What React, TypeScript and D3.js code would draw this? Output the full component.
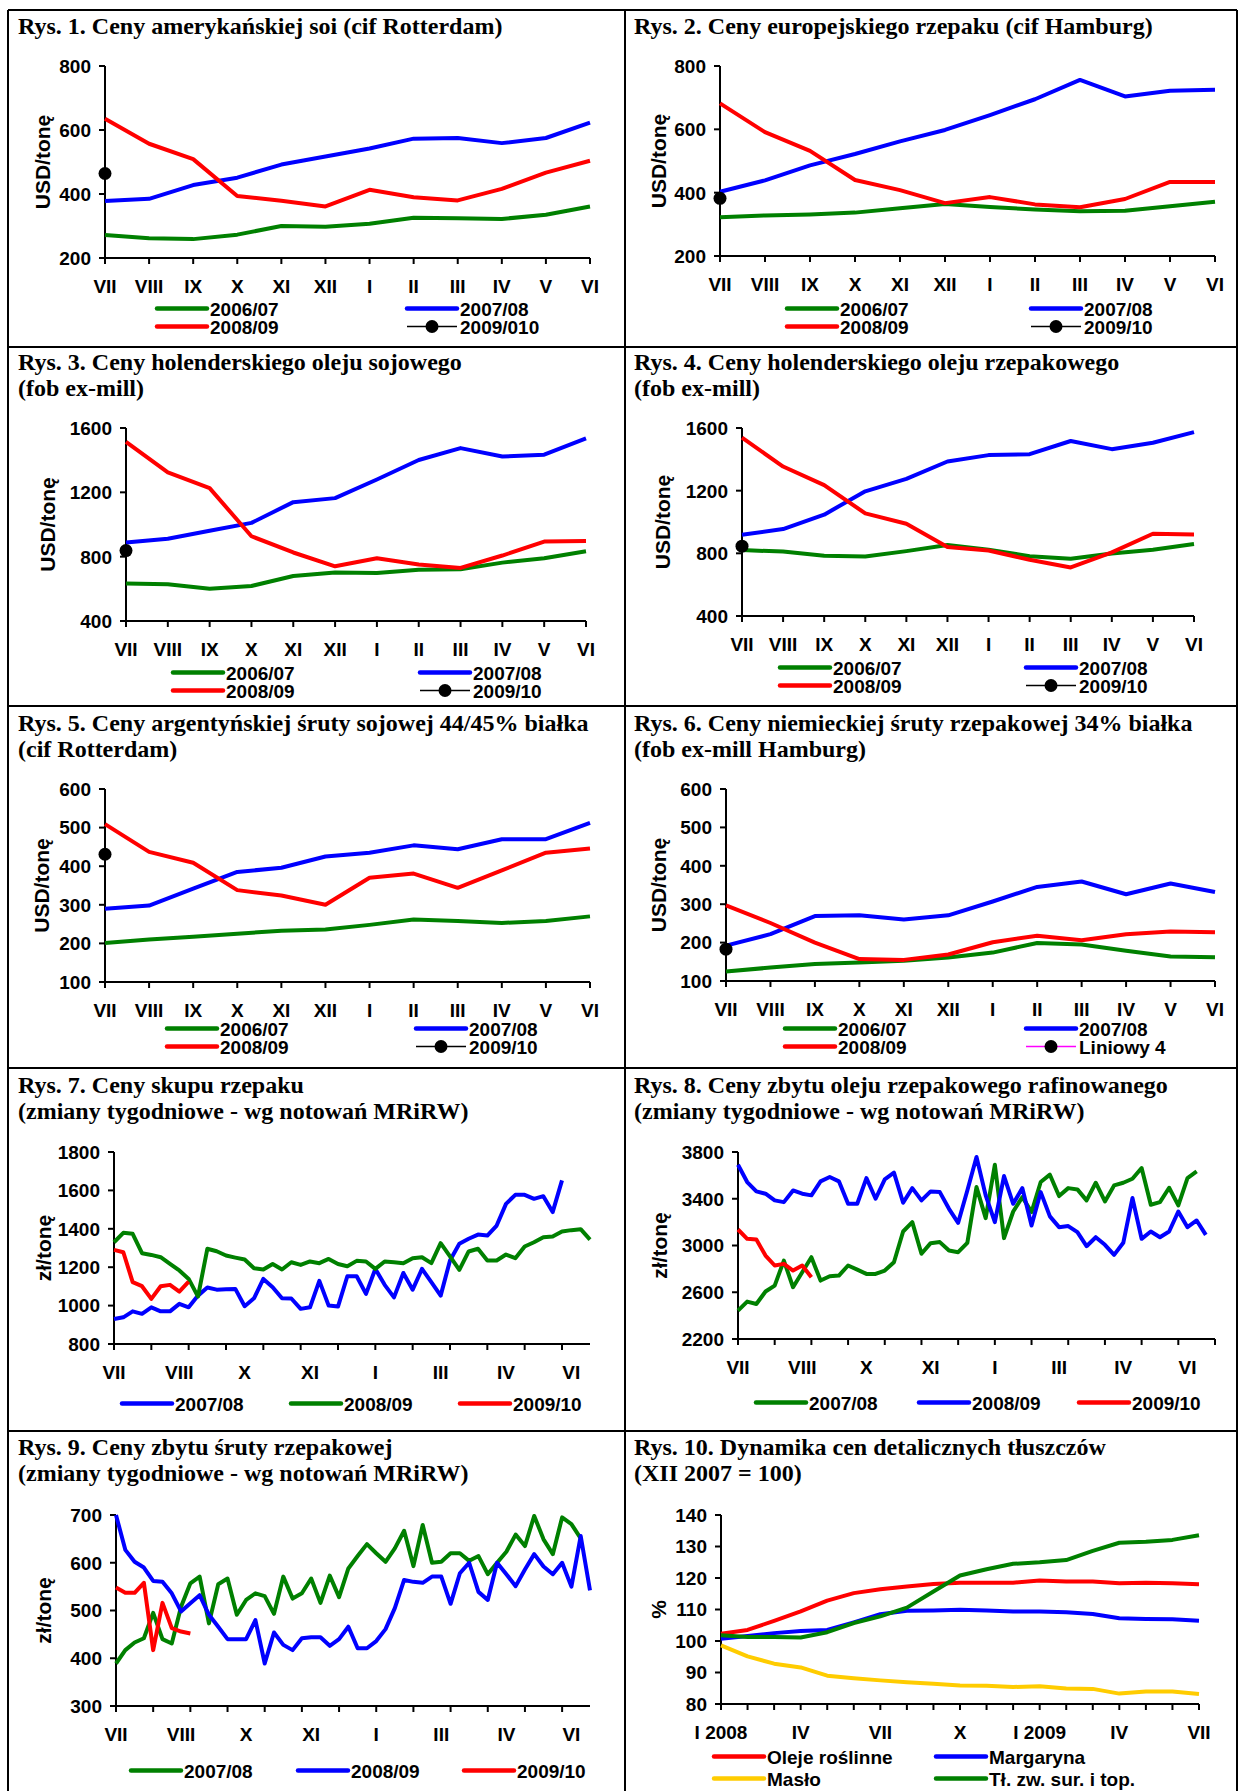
import React from "react";
import * as d3 from "d3";

const SANS = "'Liberation Sans', Arial, sans-serif";
const SERIF = "'Liberation Serif', 'Times New Roman', serif";

const GREEN = "#008000";
const BLUE = "#0000ff";
const RED = "#ff0000";
const YELLOW = "#ffcc00";
const MAGENTA = "#ff00ff";

// marketing-year months (VII..VI)
const months = ["VII", "VIII", "IX", "X", "XI", "XII", "I", "II", "III", "IV", "V", "VI"];
// weekly axes: a label every 7 weeks
const weekLabels = ["VII", "VIII", "X", "XI", "I", "III", "IV", "VI"];
const retailMonths = [
  "I 2008", "II", "III", "IV", "V", "VI", "VII", "VIII", "IX", "X", "XI", "XII",
  "I 2009", "II", "III", "IV", "V", "VI", "VII",
];

// Rys. 1 soja
const soy0607 = [272, 262, 259, 273, 300, 298, 307, 326, 324, 322, 335, 361];
const soy0708 = [378, 385, 428, 451, 492, 517, 542, 573, 575, 559, 575, 623];
const soy0809 = [635, 557, 509, 394, 379, 361, 413, 390, 380, 416, 467, 504];
const soy0910 = [464];

// Rys. 2 rzepak
const rape0607 = [322, 328, 331, 337, 351, 364, 355, 347, 341, 343, 357, 371];
const rape0708 = [403, 439, 486, 522, 562, 598, 645, 695, 756, 704, 722, 725];
const rape0809 = [682, 591, 532, 440, 408, 367, 386, 363, 354, 380, 434, 434];
const rape0910 = [382];

// Rys. 3 olej sojowy
const soyOil0607 = [633, 628, 601, 618, 680, 701, 699, 718, 722, 763, 790, 834];
const soyOil0708 = [888, 911, 961, 1010, 1139, 1164, 1280, 1401, 1475, 1423, 1434, 1536];
const soyOil0809 = [1513, 1324, 1226, 927, 826, 740, 790, 751, 730, 807, 894, 898];
const soyOil0910 = [838];

// Rys. 4 olej rzepakowy
const rapeOil0607 = [821, 811, 784, 780, 814, 853, 823, 782, 765, 799, 823, 859];
const rapeOil0708 = [919, 955, 1047, 1196, 1275, 1386, 1427, 1433, 1517, 1465, 1506, 1574];
const rapeOil0809 = [1538, 1354, 1235, 1055, 989, 840, 818, 759, 710, 806, 925, 921];
const rapeOil0910 = [846];

// Rys. 5 sruta sojowa
const soyMeal0607 = [201, 210, 217, 225, 233, 236, 248, 262, 258, 253, 258, 270];
const soyMeal0708 = [290, 298, 342, 385, 396, 425, 435, 454, 444, 470, 470, 512];
const soyMeal0809 = [509, 437, 409, 338, 324, 300, 370, 381, 344, 389, 435, 446];
const soyMeal0910 = [431];

// Rys. 6 sruta rzepakowa
const rapeMeal0607 = [125, 135, 144, 148, 153, 161, 174, 199, 195, 179, 164, 162];
const rapeMeal0708 = [192, 222, 269, 271, 260, 271, 307, 345, 359, 326, 354, 332];
const rapeMeal0809 = [297, 251, 200, 157, 155, 169, 201, 218, 206, 222, 229, 227];
const rapeMeal0910 = [183];

// Rys. 7 skup rzepaku (tygodniowo)
const seed0708 = [
  930, 939, 970, 957, 991, 970, 970, 1009, 991, 1052, 1094, 1083, 1085, 1087, 997, 1038, 1139,
  1096, 1038, 1037, 983, 991, 1129, 1000, 995, 1153, 1153, 1061, 1191, 1108, 1043, 1170, 1083,
  1191, 1122, 1052, 1235, 1322, 1348, 1370, 1365, 1417, 1530, 1577, 1577, 1556, 1570, 1487, 1652,
];
const seed0809 = [
  1330, 1379, 1374, 1273, 1264, 1252, 1217, 1183, 1139, 1047, 1296, 1283, 1261, 1250, 1240,
  1195, 1188, 1217, 1188, 1226, 1212, 1230, 1221, 1243, 1217, 1205, 1233, 1230, 1191, 1230,
  1226, 1221, 1247, 1252, 1221, 1325, 1256, 1186, 1282, 1296, 1235, 1235, 1266, 1247, 1308,
  1330, 1356, 1360, 1386, 1393, 1398, 1344,
];
const seed0910 = [1290, 1278, 1122, 1101, 1035, 1101, 1108, 1073, 1125];

// Rys. 8 olej rafinowany (tygodniowo)
const oil0708 = [
  2443, 2520, 2500, 2606, 2657, 2871, 2643, 2771, 2900, 2700, 2737, 2743, 2829, 2794, 2757,
  2757, 2786, 2857, 3120, 3200, 2929, 3020, 3029, 2957, 2943, 3023, 3500, 3234, 3691, 3063,
  3291, 3414, 3286, 3543, 3606, 3423, 3491, 3480, 3386, 3537, 3377, 3514, 3537, 3571, 3663,
  3349, 3371, 3494, 3343, 3577, 3634,
];
const oil0809 = [
  3691, 3543, 3463, 3443, 3386, 3371, 3471, 3443, 3429, 3549, 3586, 3549, 3357, 3357, 3577,
  3400, 3566, 3623, 3366, 3491, 3386, 3463, 3457, 3314, 3194, 3471, 3757, 3429, 3200, 3594,
  3357, 3491, 3171, 3457, 3249, 3157, 3166, 3114, 2994, 3071, 3006, 2920, 3023, 3406, 3057,
  3120, 3071, 3120, 3291, 3157, 3214, 3091,
];
const oil0910 = [3137, 3057, 3051, 2914, 2829, 2843, 2786, 2829, 2729];

// Rys. 9 sruta rzepakowa (tygodniowo)
const meal0708 = [
  389, 417, 433, 442, 495, 440, 431, 508, 557, 571, 473, 555, 567, 491, 522, 536, 530, 493, 571,
  525, 536, 567, 516, 573, 528, 588, 614, 639, 620, 602, 630, 667, 593, 679, 600, 602, 620, 620,
  604, 614, 576, 600, 623, 659, 635, 698, 649, 618, 695, 681, 651,
];
const meal0809 = [
  700, 627, 602, 590, 562, 560, 536, 498, 515, 532, 491, 466, 440, 440, 440, 480, 389, 454, 428,
  417, 442, 444, 444, 426, 440, 466, 421, 421, 436, 461, 505, 564, 560, 558, 571, 571, 514, 578,
  600, 539, 522, 600, 576, 551, 586, 618, 592, 576, 600, 550, 656, 542,
];
const meal0910 = [548, 537, 537, 558, 417, 516, 463, 456, 452];

// Rys. 10 ceny detaliczne (XII 2007 = 100)
const retailOil = [102.3, 103.5, 106.4, 109.4, 112.8, 115.2, 116.4, 117.3, 118.1, 118.5, 118.5, 118.5, 119.2, 118.9, 118.9, 118.3, 118.5, 118.3, 118.0];
const retailMarg = [100.7, 101.6, 102.5, 103.2, 103.5, 105.9, 108.5, 109.6, 109.7, 109.9, 109.7, 109.4, 109.4, 109.1, 108.6, 107.2, 107.0, 106.9, 106.4];
const retailButter = [98.6, 95.1, 92.8, 91.6, 89.0, 88.2, 87.5, 86.9, 86.4, 85.9, 85.8, 85.4, 85.6, 84.9, 84.8, 83.3, 84.0, 84.0, 83.2];
const retailLard = [101.8, 101.3, 101.3, 101.1, 102.8, 105.7, 107.8, 110.6, 115.7, 120.8, 122.8, 124.5, 125.0, 125.7, 128.6, 131.2, 131.5, 132.1, 133.6];

const weekCats = (n: number) =>
  d3.range(n).map((i) => (i % 7 === 0 && weekLabels[i / 7] ? weekLabels[i / 7] : ""));

type Series = { name: string; values: number[]; color: string; dot?: boolean; legendLine?: string };

type PanelProps = {
  title: string[];
  titleX: number;
  titleY: number;
  x0: number;
  x1: number;
  yTop: number;
  yBot: number;
  yDomain: [number, number];
  yTicks: number[];
  categories: string[];
  tickEvery: number;
  series: Series[];
  yTitle: string;
  yTitleX: number;
  legend: [number, number][];
};

const Panel = (p: PanelProps) => {
  const x = d3.scalePoint<number>().domain(d3.range(p.categories.length)).range([p.x0, p.x1]);
  const y = d3.scaleLinear().domain(p.yDomain).range([p.yBot, p.yTop]);
  const line = d3
    .line<number>()
    .x((_, i) => x(i) as number)
    .y((d) => y(d));
  const yMid = (p.yTop + p.yBot) / 2;

  return (
    <g>
      {p.title.map((t, i) => (
        <text key={i} x={p.titleX} y={p.titleY + i * 26} fontFamily={SERIF} fontWeight="bold" fontSize={24}>
          {t}
        </text>
      ))}

      {/* y axis */}
      <line x1={p.x0} x2={p.x0} y1={y(p.yDomain[1])} y2={p.yBot} stroke="#000" strokeWidth={2} />
      {p.yTicks.map((t) => (
        <g key={t}>
          <line x1={p.x0 - 6} x2={p.x0} y1={y(t)} y2={y(t)} stroke="#000" strokeWidth={2} />
          <text x={p.x0 - 14} y={y(t)} dy="0.36em" textAnchor="end" fontFamily={SANS} fontWeight="bold" fontSize={19}>
            {t}
          </text>
        </g>
      ))}
      <text
        transform={`translate(${p.yTitleX + 7},${yMid}) rotate(-90)`}
        textAnchor="middle"
        fontFamily={SANS}
        fontWeight="bold"
        fontSize={21}
      >
        {p.yTitle}
      </text>

      {/* x axis */}
      <line x1={p.x0} x2={p.x1} y1={p.yBot} y2={p.yBot} stroke="#000" strokeWidth={2} />
      {p.categories.map((c, i) =>
        i % p.tickEvery === 0 ? (
          <line key={"t" + i} x1={x(i)} x2={x(i)} y1={p.yBot} y2={p.yBot + 6} stroke="#000" strokeWidth={2} />
        ) : null
      )}
      {p.categories.map((c, i) =>
        c ? (
          <text key={"l" + i} x={x(i)} y={p.yBot + 35} textAnchor="middle" fontFamily={SANS} fontWeight="bold" fontSize={19}>
            {c}
          </text>
        ) : null
      )}

      {/* series */}
      {p.series.map((s) =>
        s.dot ? (
          <circle key={s.name} cx={x(0)} cy={y(s.values[0])} r={6.5} fill="#000" />
        ) : (
          <path
            key={s.name}
            d={line(s.values) || ""}
            fill="none"
            stroke={s.color}
            strokeWidth={4}
            strokeLinejoin="round"
          />
        )
      )}

      {/* legend */}
      {p.series.map((s, k) => {
        const [lx, ly] = p.legend[k];
        return (
          <g key={"lg" + k}>
            {s.dot ? (
              <>
                <line x1={lx} x2={lx + 50} y1={ly - 7.5} y2={ly - 7.5} stroke={s.legendLine || "#000"} strokeWidth={1.5} />
                <circle cx={lx + 25} cy={ly - 7.5} r={6.5} fill="#000" />
              </>
            ) : (
              <line x1={lx} x2={lx + 50} y1={ly - 7.5} y2={ly - 7.5} stroke={s.color} strokeWidth={4.5} strokeLinecap="round" />
            )}
            <text x={lx + 53} y={ly} fontFamily={SANS} fontWeight="bold" fontSize={19}>
              {s.name}
            </text>
          </g>
        );
      })}
    </g>
  );
};

const twoRows = (c1: number, c2: number, r1: number): [number, number][] => [
  [c1, r1],
  [c2, r1],
  [c1, r1 + 18],
  [c2, r1 + 18],
];

const App = () => {
  const W = 1239;
  const H = 1791;
  const rows = [10, 347, 706, 1068, 1431];

  return (
    <svg
      width={W}
      height={H}
      style={{ position: "absolute", left: 0, top: 0, background: "#fff" }}
    >
      <rect x={0} y={0} width={W} height={H} fill="#fff" />
      {/* frame */}
      <line x1={8} x2={8} y1={10} y2={H} stroke="#000" strokeWidth={2} />
      <line x1={1237} x2={1237} y1={10} y2={H} stroke="#000" strokeWidth={2} />
      <line x1={625} x2={625} y1={10} y2={H} stroke="#000" strokeWidth={2} />
      {rows.map((r) => (
        <line key={r} x1={8} x2={1237} y1={r} y2={r} stroke="#000" strokeWidth={2} />
      ))}

      <Panel
        title={["Rys. 1. Ceny amerykańskiej soi (cif Rotterdam)"]}
        titleX={18}
        titleY={34}
        x0={105}
        x1={590}
        yTop={66}
        yBot={258}
        yDomain={[200, 800]}
        yTicks={[200, 400, 600, 800]}
        categories={months}
        tickEvery={1}
        yTitle="USD/tonę"
        yTitleX={43}
        series={[
          { name: "2006/07", values: soy0607, color: GREEN },
          { name: "2007/08", values: soy0708, color: BLUE },
          { name: "2008/09", values: soy0809, color: RED },
          { name: "2009/010", values: soy0910, color: "#000", dot: true },
        ]}
        legend={twoRows(157, 407, 316)}
      />
      <Panel
        title={["Rys. 2. Ceny europejskiego rzepaku (cif Hamburg)"]}
        titleX={634}
        titleY={34}
        x0={720}
        x1={1215}
        yTop={66}
        yBot={256}
        yDomain={[200, 800]}
        yTicks={[200, 400, 600, 800]}
        categories={months}
        tickEvery={1}
        yTitle="USD/tonę"
        yTitleX={659}
        series={[
          { name: "2006/07", values: rape0607, color: GREEN },
          { name: "2007/08", values: rape0708, color: BLUE },
          { name: "2008/09", values: rape0809, color: RED },
          { name: "2009/10", values: rape0910, color: "#000", dot: true },
        ]}
        legend={twoRows(787, 1031, 316)}
      />
      <Panel
        title={["Rys. 3. Ceny holenderskiego oleju sojowego", "(fob ex-mill)"]}
        titleX={18}
        titleY={370}
        x0={126}
        x1={586}
        yTop={428}
        yBot={621}
        yDomain={[400, 1600]}
        yTicks={[400, 800, 1200, 1600]}
        categories={months}
        tickEvery={1}
        yTitle="USD/tonę"
        yTitleX={48}
        series={[
          { name: "2006/07", values: soyOil0607, color: GREEN },
          { name: "2007/08", values: soyOil0708, color: BLUE },
          { name: "2008/09", values: soyOil0809, color: RED },
          { name: "2009/10", values: soyOil0910, color: "#000", dot: true },
        ]}
        legend={twoRows(173, 420, 680)}
      />
      <Panel
        title={["Rys. 4. Ceny holenderskiego oleju rzepakowego", "(fob ex-mill)"]}
        titleX={634}
        titleY={370}
        x0={742}
        x1={1194}
        yTop={428}
        yBot={616}
        yDomain={[400, 1600]}
        yTicks={[400, 800, 1200, 1600]}
        categories={months}
        tickEvery={1}
        yTitle="USD/tonę"
        yTitleX={663}
        series={[
          { name: "2006/07", values: rapeOil0607, color: GREEN },
          { name: "2007/08", values: rapeOil0708, color: BLUE },
          { name: "2008/09", values: rapeOil0809, color: RED },
          { name: "2009/10", values: rapeOil0910, color: "#000", dot: true },
        ]}
        legend={twoRows(780, 1026, 675)}
      />
      <Panel
        title={["Rys. 5. Ceny argentyńskiej śruty sojowej 44/45% białka", "(cif Rotterdam)"]}
        titleX={18}
        titleY={731}
        x0={105}
        x1={590}
        yTop={789}
        yBot={982}
        yDomain={[100, 600]}
        yTicks={[100, 200, 300, 400, 500, 600]}
        categories={months}
        tickEvery={1}
        yTitle="USD/tonę"
        yTitleX={42}
        series={[
          { name: "2006/07", values: soyMeal0607, color: GREEN },
          { name: "2007/08", values: soyMeal0708, color: BLUE },
          { name: "2008/09", values: soyMeal0809, color: RED },
          { name: "2009/10", values: soyMeal0910, color: "#000", dot: true },
        ]}
        legend={twoRows(167, 416, 1036)}
      />
      <Panel
        title={["Rys. 6. Ceny niemieckiej śruty rzepakowej 34% białka", "(fob ex-mill Hamburg)"]}
        titleX={634}
        titleY={731}
        x0={726}
        x1={1215}
        yTop={789}
        yBot={981}
        yDomain={[100, 600]}
        yTicks={[100, 200, 300, 400, 500, 600]}
        categories={months}
        tickEvery={1}
        yTitle="USD/tonę"
        yTitleX={659}
        series={[
          { name: "2006/07", values: rapeMeal0607, color: GREEN },
          { name: "2007/08", values: rapeMeal0708, color: BLUE },
          { name: "2008/09", values: rapeMeal0809, color: RED },
          { name: "Liniowy 4", values: rapeMeal0910, color: "#000", dot: true, legendLine: MAGENTA },
        ]}
        legend={twoRows(785, 1026, 1036)}
      />
      <Panel
        title={["Rys. 7. Ceny skupu rzepaku", "(zmiany tygodniowe - wg notowań MRiRW)"]}
        titleX={18}
        titleY={1093}
        x0={114}
        x1={590}
        yTop={1152}
        yBot={1344}
        yDomain={[800, 1800]}
        yTicks={[800, 1000, 1200, 1400, 1600, 1800]}
        categories={weekCats(52)}
        tickEvery={4}
        yTitle="zł/tonę"
        yTitleX={44}
        series={[
          { name: "2007/08", values: seed0708, color: BLUE },
          { name: "2008/09", values: seed0809, color: GREEN },
          { name: "2009/10", values: seed0910, color: RED },
        ]}
        legend={[
          [122, 1411],
          [291, 1411],
          [460, 1411],
        ]}
      />
      <Panel
        title={["Rys. 8. Ceny zbytu oleju rzepakowego rafinowanego", "(zmiany tygodniowe - wg notowań MRiRW)"]}
        titleX={634}
        titleY={1093}
        x0={738}
        x1={1215}
        yTop={1152}
        yBot={1339}
        yDomain={[2200, 3800]}
        yTicks={[2200, 2600, 3000, 3400, 3800]}
        categories={weekCats(53)}
        tickEvery={4}
        yTitle="zł/tonę"
        yTitleX={660}
        series={[
          { name: "2007/08", values: oil0708, color: GREEN },
          { name: "2008/09", values: oil0809, color: BLUE },
          { name: "2009/10", values: oil0910, color: RED },
        ]}
        legend={[
          [756, 1410],
          [919, 1410],
          [1079, 1410],
        ]}
      />
      <Panel
        title={["Rys. 9. Ceny zbytu śruty rzepakowej", "(zmiany tygodniowe - wg notowań MRiRW)"]}
        titleX={18}
        titleY={1455}
        x0={116}
        x1={590}
        yTop={1515}
        yBot={1706}
        yDomain={[300, 700]}
        yTicks={[300, 400, 500, 600, 700]}
        categories={weekCats(52)}
        tickEvery={4}
        yTitle="zł/tonę"
        yTitleX={44}
        series={[
          { name: "2007/08", values: meal0708, color: GREEN },
          { name: "2008/09", values: meal0809, color: BLUE },
          { name: "2009/10", values: meal0910, color: RED },
        ]}
        legend={[
          [131, 1778],
          [298, 1778],
          [464, 1778],
        ]}
      />
      <Panel
        title={["Rys. 10. Dynamika cen detalicznych tłuszczów", "(XII 2007 = 100)"]}
        titleX={634}
        titleY={1455}
        x0={721}
        x1={1199}
        yTop={1515}
        yBot={1704}
        yDomain={[80, 140]}
        yTicks={[80, 90, 100, 110, 120, 130, 140]}
        categories={retailMonths.map((m, i) => (i % 3 === 0 ? m : ""))}
        tickEvery={1}
        yTitle="%"
        yTitleX={659}
        series={[
          { name: "Oleje roślinne", values: retailOil, color: RED },
          { name: "Margaryna", values: retailMarg, color: BLUE },
          { name: "Masło", values: retailButter, color: YELLOW },
          { name: "Tł. zw. sur. i top.", values: retailLard, color: GREEN },
        ]}
        legend={twoRows(714, 936, 1764).map(([a, b], i) => [a, i >= 2 ? b + 4 : b] as [number, number])}
      />
    </svg>
  );
};

export default App;
